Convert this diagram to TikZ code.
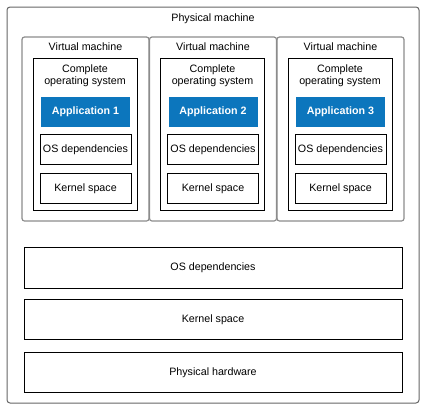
\documentclass[tikz,border=0pt]{standalone}
\usepackage{fontspec}
\setmainfont{Liberation Sans}
\usetikzlibrary{positioning}
\definecolor{appblue}{RGB}{12,118,189}

\begin{document}
\begin{tikzpicture}[
  x=1pt, y=-1pt,
  every node/.style={font=\fontsize{10.7}{12}\selectfont, inner sep=0},
  machine/.style={draw=black!60, line width=1pt, rounded corners=3pt},
  vmbox/.style={draw=black!45, line width=1.2pt, rounded corners=2.5pt, minimum width=127pt, minimum height=184pt},
  osbox/.style={draw, line width=0.9pt, minimum width=104pt, minimum height=152pt},
  appbox/.style={fill=appblue, text=white, font=\fontsize{10.7}{12}\selectfont\bfseries, minimum width=89pt, minimum height=30pt},
  layerbox/.style={draw, line width=0.9pt, minimum width=91pt, minimum height=30pt},
  hostbox/.style={draw, line width=0.9pt, minimum width=378pt, minimum height=40pt},
  title/.style={align=center}
]
\useasboundingbox (0,0) rectangle (426,413);

% the physical machine around everything
\node [machine, minimum width=412pt, minimum height=396pt] (pm) at (213,205) {};
\node [title] (pmtitle) at (213,18.5) {Physical machine};

% virtual machine 1
\node [vmbox] (vm1) at (85.5,129) {};
\node [title] (vmtitle1) at (85.5,46.5) {Virtual machine};
\node [osbox] (cos1) at (85,134) {};
\node [title] (costitle1) at (85,76) {Complete\\operating system};
\node [appbox] (app1) at (85.5,112) {Application 1};
\node [layerbox, below=7pt of app1] (dep1) {OS dependencies};
\node [layerbox, below=8pt of dep1] (ker1) {Kernel space};

% virtual machine 2
\node [vmbox] (vm2) at (213,129) {};
\node [title] (vmtitle2) at (213,46.5) {Virtual machine};
\node [osbox] (cos2) at (212.5,134) {};
\node [title] (costitle2) at (212.5,76) {Complete\\operating system};
\node [appbox] (app2) at (213,112) {Application 2};
\node [layerbox, below=7pt of app2] (dep2) {OS dependencies};
\node [layerbox, below=8pt of dep2] (ker2) {Kernel space};

% virtual machine 3
\node [vmbox] (vm3) at (340.5,129) {};
\node [title] (vmtitle3) at (340.5,46.5) {Virtual machine};
\node [osbox] (cos3) at (340,134) {};
\node [title] (costitle3) at (340,76) {Complete\\operating system};
\node [appbox] (app3) at (340.5,112) {Application 3};
\node [layerbox, below=7pt of app3] (dep3) {OS dependencies};
\node [layerbox, below=8pt of dep3] (ker3) {Kernel space};

% host layers
\node [hostbox, minimum height=41pt] (hdep) at (213,267.5) {OS dependencies};
\node [hostbox, below=11pt of hdep] (hker) {Kernel space};
\node [hostbox, below=12pt of hker] (hhw) {Physical hardware};

\end{tikzpicture}
\end{document}
